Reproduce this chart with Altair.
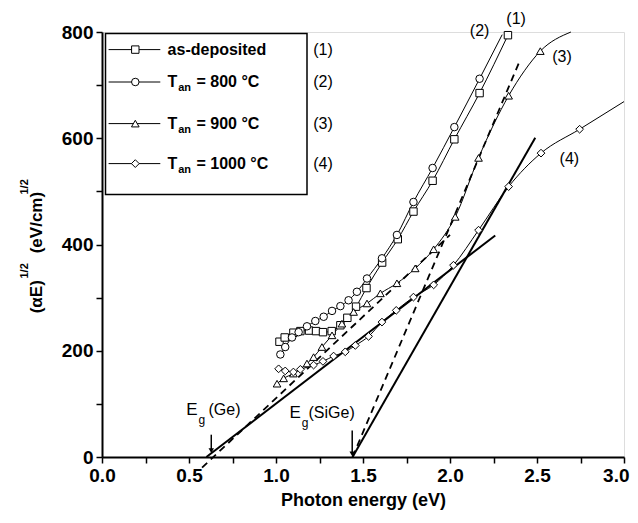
import altair as alt
import pandas as pd

# ---------------- data ----------------
SERIES = ["as-deposited", "800", "900", "1000"]
SHAPES = ["square", "circle", "triangle-up", "diamond"]
SIZES = [55, 60, 85, 70]

# (1) as-deposited : squares
E_S1 = [1.02, 1.05, 1.10, 1.14, 1.19, 1.23, 1.27, 1.32, 1.37, 1.41, 1.46, 1.52, 1.61, 1.70, 1.79, 1.90, 2.025, 2.17, 2.333]
Y_S1 = [217, 225, 234, 237, 238, 237, 235, 237, 248, 262, 283, 318, 366, 410, 462, 520, 598, 685, 794]
# (2) 800 C : circles
E_S2 = [1.025, 1.053, 1.092, 1.13, 1.178, 1.226, 1.274, 1.322, 1.37, 1.417, 1.465, 1.523, 1.609, 1.695, 1.79, 1.90, 2.025, 2.17]
Y_S2 = [193, 207, 225, 235, 246, 256, 264, 275, 284, 295, 311, 336, 374, 418, 480, 544, 621, 712]
E_S2_END = [2.30]
Y_S2_END = [795]
# (3) 900 C : triangles
E_S3 = [1.006, 1.044, 1.10, 1.178, 1.216, 1.264, 1.322, 1.379, 1.446, 1.523, 1.60, 1.695, 1.80, 1.906, 2.03, 2.164, 2.337, 2.519]
Y_S3 = [138, 148, 157, 176, 188, 207, 229, 251, 273, 289, 308, 327, 355, 391, 452, 563, 680, 764]
E_S3_END = [2.43, 2.695]
Y_S3_END = [728, 800]
# (4) 1000 C : diamonds
E_S4 = [1.015, 1.053, 1.10, 1.14, 1.216, 1.27, 1.331, 1.398, 1.456, 1.532, 1.609, 1.691, 1.79, 1.906, 2.02, 2.164, 2.337, 2.523, 2.745]
Y_S4 = [166, 162, 160, 165, 173, 180, 190, 198, 210, 227, 254, 276, 301, 324, 361, 427, 509, 572, 617]
E_S4_END = [3.0]
Y_S4_END = [669]

# linear extrapolations (solid and dashed)
FIT_SOLID_E = [[0.60, 2.26], [1.44, 2.49]]
FIT_SOLID_Y = [[0, 417], [0, 601]]
FIT_DASH_E = [[0.575, 2.0], [1.44, 2.40]]
FIT_DASH_Y = [[-20, 418], [0, 745]]

# curve tags
TAGS = ["(1)", "(2)", "(3)", "(4)"]
TAG_E = [2.38, 2.17, 2.644, 2.686]
TAG_Y = [824, 801, 753, 561]

# band-gap arrows
EG_E = [0.628, 1.438]
EG_TOP = [42, 50]
EG_TIP = [12, 6]

# legend text
LEG_MAIN = ["as-deposited", "T", "T", "T"]
LEG_SUB = ["", "an", "an", "an"]
LEG_REST = ["", "= 800 °C", "= 900 °C", "= 1000 °C"]

FONT = "Liberation Sans"

# ---------------- build tables ----------------
curve_rows, point_rows = [], []
series_data = [
    (E_S1, Y_S1, [], []),
    (E_S2, Y_S2, E_S2_END, Y_S2_END),
    (E_S3, Y_S3, E_S3_END, Y_S3_END),
    (E_S4, Y_S4, E_S4_END, Y_S4_END),
]
for name, (es, ys_, ee, ye) in zip(SERIES, series_data):
    pts = sorted(list(zip(es, ys_)) + list(zip(ee, ye)))
    for i, (e, y) in enumerate(pts):
        curve_rows.append({"series": name, "E": e, "Y": y, "order": i})
    for e, y in zip(es, ys_):
        point_rows.append({"series": name, "E": e, "Y": y})
curves = pd.DataFrame(curve_rows)
points = pd.DataFrame(point_rows)

def fit_df(Es, Ys):
    rows = []
    for k, (ee, yy) in enumerate(zip(Es, Ys)):
        for e, y in zip(ee, yy):
            rows.append({"fit": k, "E": e, "Y": y})
    return pd.DataFrame(rows)

solid = fit_df(FIT_SOLID_E, FIT_SOLID_Y)
dashed = fit_df(FIT_DASH_E, FIT_DASH_Y)
tags = pd.DataFrame({"t": TAGS, "E": TAG_E, "Y": TAG_Y})
eg = pd.DataFrame({"E": EG_E, "top": EG_TOP, "tip": EG_TIP})

xs = alt.Scale(domain=[0, 3], nice=False)
ys = alt.Scale(domain=[0, 800], nice=False)

x_axis = alt.Axis(
    values=[i * 0.25 for i in range(13)],
    labelExpr="datum.value % 0.5 === 0 ? format(datum.value, '.1f') : ''",
    labelAlign={"expr": "datum.value === 3 ? 'right' : 'center'"},
    labelOffset={"expr": "datum.value === 3 ? 5 : 0"},
    title="Photon energy (eV)", titleFont=FONT, titleFontSize=18, titleFontWeight="bold",
    titlePadding=6, labelFont=FONT, labelFontSize=19, labelFontWeight="bold",
    labelFlush=False, labelOverlap=False, labelPadding=3, tickSize=6, tickWidth=1.5,
    domainWidth=2, domainColor="black", tickColor="black", labelColor="black", grid=False,
)
y_axis = alt.Axis(
    values=[i * 100 for i in range(9)],
    labelExpr="datum.value % 200 === 0 ? datum.label : ''",
    title=None, labelFont=FONT, labelFontSize=19, labelFontWeight="bold",
    labelOverlap=False, labelPadding=3, tickSize=6, tickWidth=1.5,
    domainWidth=2, domainColor="black", tickColor="black", labelColor="black", grid=False,
)

X = alt.X("E:Q", scale=xs, axis=x_axis)
Y = alt.Y("Y:Q", scale=ys, axis=y_axis)
Xn = alt.X("E:Q", scale=xs)
Yn = alt.Y("Y:Q", scale=ys)

shape_enc = alt.Shape("series:N", scale=alt.Scale(domain=SERIES, range=SHAPES), legend=None)
size_enc = alt.Size("series:N", scale=alt.Scale(domain=SERIES, range=SIZES), legend=None)

curve_layer = alt.Chart(curves).mark_line(color="black", strokeWidth=1, interpolate="monotone").encode(
    x=X, y=Y, detail="series:N", order="order:Q")

point_layer = alt.Chart(points).mark_point(filled=True, fill="white", stroke="black", strokeWidth=1,
                                           opacity=1).encode(
    x=Xn, y=Yn, shape=shape_enc, size=size_enc)

solid_layer = alt.Chart(solid).mark_line(color="black", strokeWidth=2).encode(x=Xn, y=Yn, detail="fit:N")
dashed_layer = alt.Chart(dashed).mark_line(color="black", strokeWidth=1.8, strokeDash=[7, 5]).encode(
    x=Xn, y=Yn, detail="fit:N")

tag_layer = alt.Chart(tags).mark_text(font=FONT, fontSize=16, color="black").encode(
    x=Xn, y=Yn, text="t:N")

eg_rule = alt.Chart(eg).mark_rule(color="black", strokeWidth=1.5).encode(
    x=Xn, y=alt.Y("top:Q", scale=ys), y2="tip:Q")
eg_head = alt.Chart(eg).mark_point(shape="triangle-down", filled=True, color="black", size=30, opacity=1).encode(
    x=Xn, y=alt.Y("tip:Q", scale=ys))

eg_text = pd.DataFrame({
    "t": ["E", "g", "(Ge)", "E", "g", "(SiGe)"],
    "E": [0.484, 0.554, 0.612, 1.078, 1.148, 1.187],
    "Y": [88, 70, 88, 82, 64, 82],
    "fs": [17, 12, 16, 17, 12, 16],
})
eg_text_layer = alt.Chart(eg_text).mark_text(font=FONT, align="left", baseline="middle", color="black").encode(
    x=Xn, y=Yn, text="t:N", size=alt.Size("fs:Q", scale=None))

# ---- legend (pixel positions inside plot area) ----
box = alt.Chart(pd.DataFrame({"a": [0]})).mark_rect(fill="white", stroke="black", strokeWidth=1.5).encode(
    x=alt.value(3.5), x2=alt.value(205), y=alt.value(1.5), y2=alt.value(162.5))

ROW_Y = [17.6, 50, 91.6, 131.6]
leg_lines = pd.DataFrame({"row": ROW_Y, "x1": [6.6] * 4, "x2": [58.3] * 4})
leg_line_layer = alt.Chart(leg_lines).mark_rule(color="black", strokeWidth=1).encode(
    x=alt.X("x1:Q", scale=None), x2="x2:Q", y=alt.Y("row:Q", scale=None))
leg_pts = pd.DataFrame({"series": SERIES, "row": ROW_Y, "x": [33.3] * 4})
leg_pt_layer = alt.Chart(leg_pts).mark_point(filled=True, fill="white", stroke="black", strokeWidth=1,
                                             opacity=1).encode(
    x=alt.X("x:Q", scale=None), y=alt.Y("row:Q", scale=None), shape=shape_enc, size=size_enc)

leg_txt_rows = []
for r, (m, s, rest) in enumerate(zip(LEG_MAIN, LEG_SUB, LEG_REST)):
    leg_txt_rows.append({"t": m, "x": 65.6, "y": ROW_Y[r], "fs": 16})
    if s:
        leg_txt_rows.append({"t": s, "x": 76.2, "y": ROW_Y[r] + 6, "fs": 11})
        leg_txt_rows.append({"t": rest, "x": 94.5, "y": ROW_Y[r], "fs": 16})
leg_txt = pd.DataFrame(leg_txt_rows)
leg_txt_layer = alt.Chart(leg_txt).mark_text(font=FONT, fontWeight="bold", align="left", baseline="middle",
                                             color="black").encode(
    x=alt.X("x:Q", scale=None), y=alt.Y("y:Q", scale=None), text="t:N", size=alt.Size("fs:Q", scale=None))
leg_tags = pd.DataFrame({"t": TAGS, "x": [221] * 4, "y": ROW_Y})
leg_tag_layer = alt.Chart(leg_tags).mark_text(font=FONT, fontSize=16, baseline="middle", color="black").encode(
    x=alt.X("x:Q", scale=None), y=alt.Y("y:Q", scale=None), text="t:N")

# ---- y axis title with superscripts ----
ytitle = pd.DataFrame({
    "t": ["(αE)", "1/2", "(eV/cm)", "1/2"],
    "x": [-65.4, -77.0, -65.4, -77.0],
    "y": [281.3, 246.5, 221.3, 162.5],
    "fs": [17, 11, 17, 11],
})
ytitle_layer = alt.Chart(ytitle).mark_text(font=FONT, fontWeight="bold", angle=270, align="left",
                                           baseline="middle", color="black").encode(
    x=alt.X("x:Q", scale=None), y=alt.Y("y:Q", scale=None), text="t:N", size=alt.Size("fs:Q", scale=None))

chart = alt.layer(
    curve_layer, solid_layer, dashed_layer, point_layer, tag_layer, eg_rule, eg_head, eg_text_layer,
    box, leg_line_layer, leg_pt_layer, leg_txt_layer, leg_tag_layer, ytitle_layer,
).properties(
    width=522, height=425,
    autosize=alt.AutoSizeParams(type="none"),
    padding={"left": 94, "top": 24, "right": 6, "bottom": 58},
).configure_view(stroke=None).configure(background="white")

chart.save("out.html", embed_options={"renderer": "svg", "actions": False})
